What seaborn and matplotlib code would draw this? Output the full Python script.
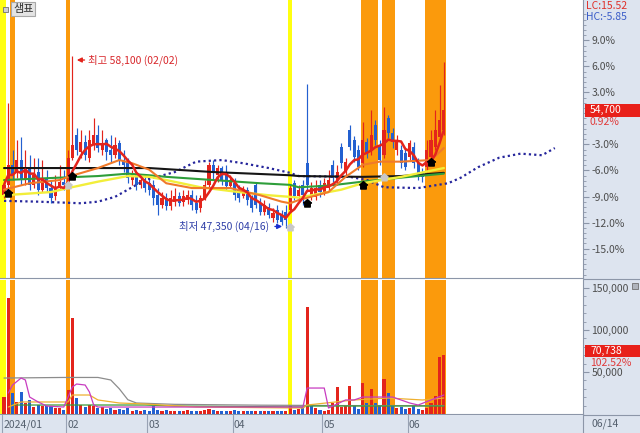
import numpy as np
import pandas as pd
import seaborn as sns
import matplotlib.pyplot as plt
from matplotlib.patches import Rectangle
from matplotlib.lines import Line2D
from matplotlib.transforms import blended_transform_factory

sns.set_style("white")
plt.rcParams["font.family"] = ["Noto Sans CJK KR", "DejaVu Sans"]
plt.rcParams["axes.unicode_minus"] = False

STOCK_NAME = "샘표"
BASE_PRICE = 54200          # 0.0% line of the price scale
HIGH_DATE, LOW_DATE, LAST_DATE = "02/02", "04/16", "06/14"
PRICE_CHANGE, VOL_CHANGE = "0.92%", "102.52%"
LC_TEXT, HC_TEXT = "LC:15.52", "HC:-5.85"

# daily candles, 2024-01-11 .. 2024-06-14 (trading day index 0..103)
opens = [49400, 50050, 51300, 50850, 51600, 50350, 51100, 50050, 50850, 49750,
         50500, 49850, 49350, 49850, 50250, 50250, 51750, 53150, 52100, 52750,
         51750, 52550, 53150, 52250, 52850, 52250, 51900, 52650, 51600, 51500,
         50350, 50650, 50050, 50350, 50150, 50050, 49400, 48800, 49250, 48750,
         49000, 49350, 49000, 49100, 49400, 48900, 48600, 49250, 50050, 51300,
         50650, 51100, 50850, 50000, 50150, 49750, 49350, 49750, 49250, 50050,
         48900, 48350, 48650, 48000, 48500, 48150, 48350, 48500, 50150, 49350,
         50050, 51400, 49400, 49300, 50050, 49600, 49850, 51300, 50350, 52400,
         50850, 53500, 52850, 52250, 51400, 52750, 52250, 53800, 52400, 51900,
         54250, 53300, 52250, 52250, 52050, 51800, 52400, 51400, 50850, 51150,
         51800, 52400, 53050, 53500]
highs = [50350, 55150, 52250, 52850, 53050, 52250, 51900, 51750, 51750, 51600,
         51000, 50350, 50650, 51300, 51000, 52250, 58100, 53600, 53500, 53150,
         53500, 54250, 53800, 53500, 53000, 53150, 53050, 52850, 52250, 51750,
         51000, 50850, 50650, 50650, 50500, 50350, 49850, 49600, 49550, 49750,
         49850, 49600, 49750, 49750, 49750, 49400, 49400, 50350, 51500, 51600,
         51300, 51250, 51300, 50650, 50500, 50050, 50000, 49900, 49400, 50150,
         49250, 49100, 48900, 48600, 48800, 48500, 48800, 50050, 50350, 50050,
         50350, 56350, 50250, 50350, 50350, 50500, 51000, 51600, 51300, 52650,
         51750, 53800, 53100, 52550, 54000, 53000, 54700, 54100, 52850, 54900,
         54400, 53600, 53150, 52550, 52350, 52850, 52750, 51750, 51100, 52850,
         53500, 54700, 56300, 57750]
lows = [49250, 49850, 50350, 50500, 50050, 50050, 49750, 49850, 49400, 49600,
        49600, 48900, 49100, 49750, 49750, 50000, 51600, 51900, 51750, 51600,
        51500, 52250, 52100, 51900, 51600, 51500, 51750, 51300, 50850, 50150,
        50050, 49750, 49850, 49600, 49400, 48800, 48150, 48600, 48500, 48500,
        48750, 48750, 48750, 48850, 48500, 48300, 48350, 49100, 49850, 50350,
        50250, 50050, 49750, 49850, 49100, 49000, 49250, 48800, 48350, 48600,
        48150, 48150, 48000, 47750, 47650, 47550, 47350, 48350, 49100, 49100,
        48800, 49750, 49100, 49100, 49300, 49400, 49600, 50250, 50050, 51100,
        50650, 52250, 51500, 51000, 51150, 51750, 51900, 52550, 51300, 51750,
        53000, 52350, 51900, 51100, 51000, 51600, 51100, 50350, 50250, 50850,
        51600, 52250, 52850, 53150]
closes = [50050, 51300, 50650, 51600, 50350, 51100, 50050, 50650, 49750, 50500,
          49850, 49250, 49850, 50250, 50050, 51750, 52550, 52250, 52750, 51900,
          52850, 53150, 52350, 52650, 52100, 51900, 52550, 51600, 51300, 50500,
          50600, 50050, 50350, 49850, 49750, 49250, 48800, 49250, 48750, 49250,
          49350, 48900, 49350, 49400, 48800, 48500, 49250, 50050, 51300, 50850,
          51100, 50350, 50000, 50350, 49400, 49250, 49750, 49100, 48600, 48800,
          48350, 48800, 48150, 48300, 47850, 47750, 47850, 49850, 49350, 49750,
          49400, 50050, 49850, 49850, 49600, 50150, 50350, 50500, 50850, 51400,
          51500, 52400, 51800, 51150, 52850, 52050, 53150, 52850, 51600, 53500,
          53300, 52750, 52850, 51400, 51150, 52650, 51400, 50550, 50550, 52250,
          52850, 53500, 54100, 54700]
volumes = [20000, 138000, 25000, 14000, 26000, 13000, 17000, 8000, 11000, 10000,
           10000, 9000, 7000, 7000, 5000, 29000, 114000, 19000, 11000, 8500,
           11000, 9000, 7000, 8000, 6000, 7000, 5000, 6000, 5000, 7000,
           4000, 5000, 4000, 5000, 4000, 9000, 5000, 4000, 5000, 3000,
           4000, 3500, 4000, 4500, 3000, 4000, 3500, 5000, 6000, 5000,
           4000, 3500, 4000, 3000, 4500, 3500, 4000, 3000, 3500, 4000,
           3000, 3500, 4000, 3500, 4000, 3500, 4000, 11000, 5000, 6000,
           8000, 127000, 9000, 7000, 5000, 4000, 5000, 13000, 32000, 8000,
           9000, 33000, 10000, 6000, 37000, 13000, 30000, 13000, 9000, 42000,
           25000, 9000, 7000, 8000, 6000, 7000, 9000, 6000, 5000, 7000,
           13000, 22000, 68000, 70738]

# moving-average / cloud lines (day index, price)
ma_orange_days = [0, 6, 13, 15, 22, 27, 30, 34, 38, 44, 53, 60, 65, 67, 69, 76, 80, 84, 88, 93, 100, 103]
ma_orange = [49750, 50150, 50350, 50550, 51100, 51600, 51400, 51000, 50150, 49850, 49850,
             49400, 49000, 48900, 49100, 49600, 50550, 51300, 51500, 51500, 51600, 52350]
ma_yellow_days = [0, 11, 15, 22, 29, 34, 38, 46, 55, 62, 67, 69, 79, 84, 93, 103]
ma_yellow = [49400, 49600, 49850, 50250, 50600, 50550, 50350, 49900, 49600, 49400, 49300,
             49250, 49750, 50150, 50550, 51100]
ma_green_days = [0, 13, 22, 29, 34, 38, 49, 60, 67, 69, 76, 84, 93, 103]
ma_green = [50350, 50500, 50600, 50750, 50650, 50550, 50350, 50150, 50050, 49900, 50000,
            50250, 50500, 50750]
ma_black_days = [0, 22, 34, 49, 67, 69, 84, 93, 103]
ma_black = [51100, 51100, 51100, 50850, 50650, 50600, 50550, 50600, 50800]
span_days = [0, 8, 18, 22, 26, 30, 33, 40, 45, 51, 56, 62, 67, 69, 81, 85, 89, 97, 104,
             107, 111, 116, 121, 126, 129]
span_line = [49050, 49000, 48900, 49000, 49300, 49900, 50350, 50850, 51500, 51600, 51400,
             51100, 50800, 50600, 50550, 50350, 49900, 49850, 50150, 50500, 51150, 51750,
             52000, 51900, 52350]

# volume average lines
vma_gray_days = [0, 14, 22, 25, 27, 29, 31, 40, 60, 80, 103]
vma_gray = [42800, 43500, 43500, 40500, 30000, 17000, 13100, 11500, 10500, 10000, 10000]
vma_mag_days = [1, 2, 4, 5, 6, 8, 10, 14, 15, 16, 17, 19, 20, 21, 22, 70, 71, 75, 76, 80,
                82, 84, 91, 95, 97, 100, 103]
vma_mag = [25000, 34500, 42800, 40500, 20200, 14300, 9500, 8300, 20200, 32100, 35700,
           34500, 26200, 10700, 8300, 8300, 30900, 30900, 7100, 16700, 16700, 20200,
           20200, 13100, 10700, 16700, 22600]
vma_org_days = [1, 4, 15, 16, 20, 22, 27, 33, 45, 70, 71, 82, 90, 98, 103]
vma_org = [8300, 14300, 14300, 22600, 22600, 16700, 13100, 11900, 8300, 7100, 10700,
           16700, 19000, 16700, 19000]
vma_grn_days = [2, 33, 40, 70, 71, 103]
vma_grn = [10700, 10700, 9500, 8300, 9500, 9500]

# signal markers and highlighted days
buy_days = [1, 16, 71, 84, 100]
buy_prices = [49550, 50600, 48900, 50050, 51500]
gray_days = [15, 67, 89]
gray_prices = [50050, 47400, 50550]
orange_days = [2, 15, 84, 85, 86, 87, 89, 90, 91, 99, 100, 101, 102, 103]
yellow_days = [0, 67]

month_days = [0, 15, 34, 54, 75, 95]
month_labels = ["2024/01", "02", "03", "04", "05", "06"]
pct_ticks = [9, 6, 3, -3, -6, -9, -12, -15]

RED, BLUE = "#e3241c", "#2360d0"
ORANGE, YELLOW = "#fb9a0c", "#ffff10"
PANEL = "#dde4ef"
EDGE = "#8c96a8"
TXT = "#4d4d4d"
X_LEFT, X_RIGHT = -0.94, 135.6

o, h, l, c = map(np.array, (opens, highs, lows, closes))
days = np.arange(len(c))
candle_col = np.where(c >= o, RED, BLUE)
prev = np.r_[o[0], c[:-1]]
vol_col = np.where(c >= prev, RED, BLUE)
ma5 = pd.Series(closes).rolling(5, min_periods=1).mean()

W, H = 640, 433


def px(x0, y0, x1, y1):
    return [x0 / W, 1 - y1 / H, (x1 - x0) / W, (y1 - y0) / H]


def runs(ds):
    out, start, last = [], ds[0], ds[0]
    for d in ds[1:]:
        if d == last + 1:
            last = d
            continue
        out.append((start, last))
        start = last = d
    out.append((start, last))
    return out


fig = plt.figure(figsize=(W / 100, H / 100), dpi=100)
fig.add_artist(Rectangle((583 / W, 0), 57 / W, 1, transform=fig.transFigure,
                         fc=PANEL, ec="none", zorder=-5))
ax = fig.add_axes(px(0, 0, 583, 278))
axv = fig.add_axes(px(0, 280, 583, 414), sharex=ax)
axs = fig.add_axes(px(0, 415, 583, 433), sharex=ax)

# highlighted days (the first one runs into the left edge)
for a in (ax, axv):
    for s, e in runs(orange_days):
        a.axvspan(s - 0.5, e + 0.5, color=ORANGE, lw=0, zorder=0.5)
    for s, e in runs(yellow_days):
        a.axvspan(X_LEFT if s == 0 else s - 0.5, e + 0.5, color=YELLOW, lw=0, zorder=0.5)

# candles
ax.vlines(days, l, h, colors=candle_col, lw=0.85, zorder=3)
ax.bar(days, np.abs(c - o), bottom=np.minimum(o, c), width=0.72, color=candle_col,
       linewidth=0, zorder=3.2)

# lines
sns.lineplot(x=span_days, y=span_line, ax=ax, color="#26269c", lw=1.6,
             linestyle=(0, (1, 1.4)), zorder=4)
sns.lineplot(x=ma_black_days, y=ma_black, ax=ax, color="#151515", lw=1.5, zorder=4)
sns.lineplot(x=ma_green_days, y=ma_green, ax=ax, color="#2e9e3a", lw=1.5, zorder=4)
sns.lineplot(x=ma_yellow_days, y=ma_yellow, ax=ax, color="#f2ee3a", lw=1.7, zorder=4)
sns.lineplot(x=ma_orange_days, y=ma_orange, ax=ax, color="#f07a2a", lw=1.5, zorder=4.2)
sns.lineplot(x=days, y=ma5, ax=ax, color=RED, lw=1.8, zorder=4.5)

# signal markers
house = [(-1, 0.1), (0, 1), (1, 0.1), (0.7, 0.1), (0.7, -0.9), (-0.7, -0.9), (-0.7, 0.1), (-1, 0.1)]
ax.scatter(buy_days, buy_prices, marker=house, s=32, color="black", zorder=6)
ax.scatter(gray_days, gray_prices, marker=house, s=28, color="#c8c8c8", zorder=6)

# high / low annotations
hi_i = int(np.argmax(h))
hi_p = int(h[hi_i])
ax.annotate("", xy=(hi_i + 0.4, hi_p - 250), xytext=(hi_i + 3.5, hi_p - 250),
            arrowprops=dict(arrowstyle="-|>", color=RED, lw=1, mutation_scale=7), zorder=7)
ax.text(hi_i + 3.6, hi_p - 250, f"최고 {hi_p:,} ({HIGH_DATE})", color="#d8262a",
        fontsize=7.5, va="center", ha="left", zorder=7)
lo_i = int(np.argmin(l))
lo_p = int(l[lo_i])
ax.annotate("", xy=(lo_i - 0.2, lo_p + 100), xytext=(lo_i - 3.2, lo_p + 100),
            arrowprops=dict(arrowstyle="-|>", color="#1a2ed0", lw=1, mutation_scale=7), zorder=7)
ax.text(lo_i - 4.0, lo_p + 100, f"최저 {lo_p:,} ({LOW_DATE})", color="#3040a8",
        fontsize=7.5, va="center", ha="right", zorder=7)

# price axis
ax.set_xlim(X_LEFT, X_RIGHT)
ax.set_ylim(44230, 61600)
ax.yaxis.tick_right()
ax.set_yticks([BASE_PRICE * (1 + p / 100) for p in pct_ticks])
ax.set_yticklabels([f"{p:.1f}%" for p in pct_ticks])
ax.set_yticks([BASE_PRICE * (1 + q / 100) for q in np.arange(-18, 12.1, 0.6)], minor=True)
ax.tick_params(axis="y", which="major", length=4, width=0.8, color=EDGE, labelsize=7.5,
               labelcolor=TXT, pad=2, right=True, labelright=True, left=False, labelleft=False)
ax.tick_params(axis="y", which="minor", length=2, width=0.6, color=EDGE, right=True, left=False)
ax.tick_params(axis="x", bottom=False, labelbottom=False)
ax.set_xlabel("")
ax.set_ylabel("")

# volume panel
axv.bar(days, volumes, width=0.72, color=vol_col, linewidth=0, zorder=3)
sns.lineplot(x=vma_gray_days, y=vma_gray, ax=axv, color="#8c8c8c", lw=0.9, zorder=4)
sns.lineplot(x=vma_grn_days, y=vma_grn, ax=axv, color="#3a9a3a", lw=0.9, zorder=4)
sns.lineplot(x=vma_org_days, y=vma_org, ax=axv, color="#eeb030", lw=0.9, zorder=4)
sns.lineplot(x=vma_mag_days, y=vma_mag, ax=axv, color="#c83cc0", lw=0.9, zorder=4)
axv.set_ylim(0, 159500)
axv.yaxis.tick_right()
vt = [50000, 100000, 150000]
axv.set_yticks(vt)
axv.set_yticklabels([f"{v:,}" for v in vt])
axv.set_yticks(np.arange(10000, 160000, 10000), minor=True)
axv.tick_params(axis="y", which="major", length=4, width=0.8, color=EDGE, labelsize=7.5,
                labelcolor=TXT, pad=2, right=True, labelright=True, left=False, labelleft=False)
axv.tick_params(axis="y", which="minor", length=2, width=0.6, color=EDGE, right=True, left=False)
axv.tick_params(axis="x", bottom=False, labelbottom=False)
axv.set_xlabel("")
axv.set_ylabel("")

for a in (ax, axv):
    a.spines["top"].set_visible(False)
    a.spines["left"].set_visible(False)
    for s in ("right", "bottom"):
        a.spines[s].set_color(EDGE)
        a.spines[s].set_linewidth(0.8)

# date strip
axs.set_facecolor(PANEL)
axs.set_ylim(0, 1)
axs.tick_params(left=False, bottom=False, labelleft=False, labelbottom=False)
for s in ("top", "left", "bottom"):
    axs.spines[s].set_visible(False)
axs.spines["right"].set_color(EDGE)
for d, lab in zip(month_days, month_labels):
    axs.axvline(d - 0.45, color="#98a2b4", lw=0.8)
    axs.text(d - 0.2, 0.45, lab, fontsize=7.5, color="#55606e", va="center", ha="left")

# right-hand tags
trans = blended_transform_factory(ax.transAxes, ax.transData)
last_c = closes[-1]
ax.add_patch(Rectangle((1.003, last_c - 380), 0.094, 760, transform=trans, clip_on=False,
                       fc="#e8201a", ec="none", zorder=10))
ax.text(1.012, last_c, f"{last_c:,}", transform=trans, color="white", fontsize=7.5,
        va="center", ha="left", clip_on=False, zorder=11)
ax.annotate(PRICE_CHANGE, xy=(1.012, last_c), xycoords=trans, xytext=(0, -8.5),
            textcoords="offset points", color="#e03a3a", fontsize=7.5, va="center",
            ha="left", annotation_clip=False, zorder=11)

vtrans = blended_transform_factory(axv.transAxes, axv.transData)
last_v = volumes[-1]
axv.add_patch(Rectangle((1.003, last_v - 3000), 0.094, 14000, transform=vtrans, clip_on=False,
                        fc="#e8201a", ec="none", zorder=10))
axv.text(1.012, last_v + 4000, f"{last_v:,}", transform=vtrans, color="white", fontsize=7.5,
         va="center", ha="left", clip_on=False, zorder=11)
axv.annotate(VOL_CHANGE, xy=(1.012, last_v + 4000), xycoords=vtrans, xytext=(0, -8.5),
             textcoords="offset points", color="#e03a3a", fontsize=7.5, va="center",
             ha="left", annotation_clip=False, zorder=11)

fig.text(586 / W, 1 - 6 / H, LC_TEXT, color="#e0302a", fontsize=7.5, va="center")
fig.text(586 / W, 1 - 17 / H, HC_TEXT, color="#3a5cc8", fontsize=7.5, va="center")
fig.text(592 / W, 1 - 424 / H, LAST_DATE, color="#55606e", fontsize=7.5, va="center")
fig.add_artist(Line2D([583 / W, 1], [1 - 278.5 / H] * 2, color=EDGE, lw=0.8))
fig.add_artist(Line2D([583 / W, 1], [1 - 414.5 / H] * 2, color=EDGE, lw=0.8))

# name tag and small icons
fig.text(13 / W, 1 - 9 / H, STOCK_NAME, fontsize=8, color="#333333", va="center", ha="left",
         bbox=dict(boxstyle="square,pad=0.15", fc="#e4e4e4", ec="#a8a8a8", lw=0.8), zorder=12)
fig.add_artist(Rectangle((3 / W, 1 - 12 / H), 5 / W, 5 / H, transform=fig.transFigure,
                         fc="#d0d0d0", ec="#707070", lw=0.6, zorder=12))
fig.add_artist(Rectangle((632 / W, 1 - 289 / H), 6 / W, 6 / H, transform=fig.transFigure,
                         fc="#b0b4bc", ec="#707070", lw=0.6, zorder=12))

fig.savefig("out.png", dpi=100)
